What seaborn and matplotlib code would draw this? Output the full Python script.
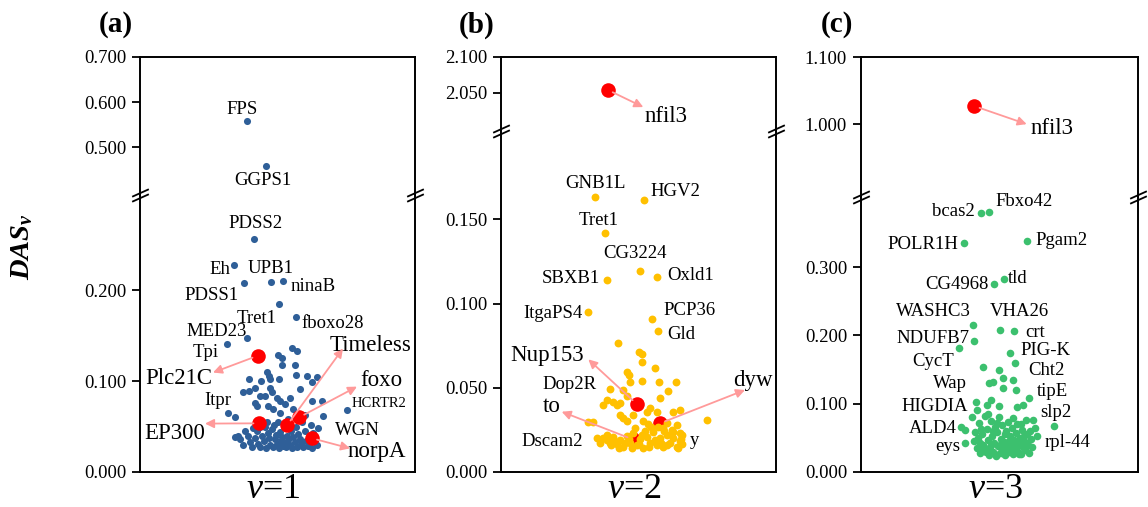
import numpy as np
import pandas as pd
import matplotlib
matplotlib.use("Agg")
import matplotlib.pyplot as plt
import seaborn as sns
from matplotlib.path import Path

sns.set_theme(style="ticks")
plt.rcParams["font.family"] = ["Liberation Serif", "DejaVu Serif"]
plt.rcParams["text.color"] = "black"
plt.rcParams["axes.labelcolor"] = "black"
plt.rcParams["xtick.color"] = "black"
plt.rcParams["ytick.color"] = "black"
plt.rcParams["axes.edgecolor"] = "black"
plt.rcParams["mathtext.fontset"] = "custom"
plt.rcParams["mathtext.rm"] = "Liberation Serif"
plt.rcParams["mathtext.it"] = "Liberation Serif:italic"
plt.rcParams["mathtext.bf"] = "Liberation Serif:bold"
HAS_BFIT = "mathtext.bfit" in plt.rcParams
if HAS_BFIT:
    plt.rcParams["mathtext.bfit"] = "Liberation Serif:italic:bold"

# ---------------------------------------------------------------- data
# panel (a)  v=1
a_x = [107, 126, 114, 94, 104, 131, 143, 139, 156, 107, 87, 88, 95, 207, 183,
       151.7, 156.7, 138.3, 141.7, 141.7, 155, 127.3, 129.3, 109, 121, 130, 166.7, 176.7, 155.7,
       139.3, 115, 160, 172.3, 109, 103.3, 130, 131.7, 120, 125, 136.7, 140, 150, 145, 171.7,
       181.7, 115, 116.7, 128, 133.3, 140, 153.3, 178.3, 173.3, 98.3, 95,
       100, 103, 108, 110, 112, 115, 117, 118, 120, 122, 124, 125, 126, 128, 129, 130, 132, 133,
       134, 135, 136, 137, 138, 139, 140, 141, 142, 143, 144, 145, 146, 147, 148, 150, 151, 152,
       153, 155, 156, 157, 158, 160, 161, 162, 163, 165, 166, 168, 170, 171, 172, 175, 177, 120,
       113, 105, 127, 148, 158, 165]
a_y = [0.558, 0.458, 0.2566, 0.228, 0.2076, 0.2095, 0.2106, 0.185, 0.1705, 0.148, 0.141,
       0.0654, 0.061, 0.0684, 0.0617,
       0.136, 0.133, 0.129, 0.126, 0.118, 0.118, 0.110, 0.106, 0.102, 0.100, 0.102, 0.106, 0.105,
       0.107, 0.102, 0.093, 0.091, 0.099, 0.089, 0.088, 0.093, 0.088, 0.084, 0.084, 0.081, 0.078,
       0.082, 0.075, 0.078, 0.078, 0.076, 0.073, 0.073, 0.069, 0.065, 0.069, 0.048, 0.043,
       0.040, 0.038,
       0.036, 0.030, 0.040, 0.033, 0.027, 0.037, 0.045, 0.031, 0.028, 0.040, 0.034, 0.049, 0.026,
       0.043, 0.037, 0.030, 0.047, 0.027, 0.052, 0.036, 0.041, 0.031, 0.055, 0.026, 0.044, 0.034,
       0.038, 0.029, 0.049, 0.032, 0.027, 0.040, 0.035, 0.030, 0.045, 0.026, 0.038, 0.033, 0.050,
       0.028, 0.042, 0.036, 0.031, 0.055, 0.027, 0.045, 0.034, 0.029, 0.040, 0.052, 0.026, 0.035,
       0.030, 0.050, 0.048, 0.045, 0.055, 0.058, 0.060, 0.063]
a_red_names = ["Plc21C", "EP300", "Timeless", "foxo", "norpA"]
a_red_x = [117.7, 119, 147.3, 159.3, 171.7]
a_red_y = [0.128, 0.0536, 0.0518, 0.0603, 0.0372]
a_arrow_x = [73, 65, 203, 217, 210]
a_arrow_y = [0.1095, 0.0533, 0.136, 0.094, 0.026]
a_red_lx = [72, 65, 190, 220, 208]
a_red_ly = [0.103, 0.0426, 0.139, 0.101, 0.0224]
a_red_ha = ["right", "right", "left", "left", "left"]
a_lab = ["FPS", "GGPS1", "PDSS2", "Eh", "UPB1", "PDSS1", "ninaB", "Tret1", "fboxo28",
         "MED23", "Tpi", "Itpr", "HCRTR2", "WGN"]
a_lab_x = [102, 123.3, 116, 80.3, 130.8, 71.7, 172.8, 116.7, 192.5, 76.7, 65.7, 77.5, 211.7, 195]
a_lab_y = [0.5845, 0.4263, 0.2734, 0.2235, 0.2246, 0.194, 0.2043, 0.1694, 0.163, 0.155,
           0.1315, 0.079, 0.0757, 0.046]
a_lab_ha = ["center"] * 12 + ["left", "left"]
a_lab_fs = [13.5] * 12 + [10.5, 13.5]

# panel (b)  v=2
b_x = [94, 143, 104.3, 139, 156.3, 106.3, 87.3, 151.3, 156.7,
       117.3, 138.3, 140.7, 141.3, 154, 125.7, 128.3, 129, 140.7, 158, 174.7, 109, 122.3, 167.3,
       159, 126, 105.7, 112.3, 102.3, 115.7, 119, 149, 145.7, 155.7, 172.3, 179, 205.7, 87.3,
       92.3, 119, 122.3, 125.7, 132.3, 142.3, 147.3, 165.7, 175.7, 162.3, 172, 179, 181,
       95.7, 102.3, 105.7, 109, 112.3, 115.7, 119, 122.3, 125.7, 129, 132.3, 135.7, 139, 142.3,
       145.7, 149, 152.3, 155.7, 159, 162.3, 165.7, 169, 172.3, 175.7, 179, 180.5, 99, 106, 113,
       118, 128, 134, 138, 144, 148, 154, 160, 166, 171, 177, 180, 110, 124, 131, 141, 150, 157,
       163]
b_y = [0.1631, 0.1615, 0.1417, 0.1196, 0.1156, 0.114, 0.0948, 0.0909, 0.0839,
       0.0764, 0.0715, 0.0700, 0.0655, 0.0615, 0.0596, 0.0576, 0.0536, 0.0542, 0.0536, 0.0536,
       0.0491, 0.0487, 0.0483, 0.0438, 0.0450, 0.0428, 0.0418, 0.0398, 0.0398, 0.0408, 0.0378,
       0.0358, 0.0358, 0.0358, 0.0368, 0.0311, 0.0299, 0.0299, 0.0339, 0.0319, 0.0305, 0.0339,
       0.0305, 0.0285, 0.0289, 0.0279, 0.0259, 0.0240, 0.0230, 0.0222,
       0.0200, 0.0200, 0.0190, 0.0175, 0.0210, 0.0165, 0.0190, 0.0150, 0.0215, 0.0170, 0.0230,
       0.0160, 0.0195, 0.0145, 0.0210, 0.0175, 0.0235, 0.0160, 0.0200, 0.0150, 0.0220, 0.0175,
       0.0200, 0.0150, 0.0185, 0.0165, 0.0175, 0.0220, 0.0185, 0.0145, 0.0195, 0.0260, 0.0165,
       0.0245, 0.0150, 0.0190, 0.0175, 0.0160, 0.0250, 0.0140, 0.0195, 0.0160, 0.0175, 0.0145,
       0.0220, 0.0265, 0.0270, 0.0245]
b_red_names = ["nfil3", "Nup153", "to", "dyw"]
b_red_x = [106.7, 135.7, 131.7, 159]
b_red_y = [2.0538, 0.0404, 0.0194, 0.0289]
b_arrow_x = [142.3, 87.3, 60.7, 244]
b_arrow_y = [2.0296, 0.0669, 0.0358, 0.0487]
b_red_lx = [144, 83, 50.7, 232]
b_red_ly = [2.0164, 0.0689, 0.0388, 0.0546]
b_red_ha = ["left", "right", "center", "left"]
b_lab = ["GNB1L", "HGV2", "Tret1", "CG3224", "Oxld1", "SBXB1", "ItgaPS4", "PCP36", "Gld",
         "Dop2R", "Dscam2", "y"]
b_lab_x = [94, 149, 97.8, 133.5, 166.3, 99, 81.7, 162.3, 166.3, 68.7, 82.3, 194]
b_lab_y = [0.1714, 0.1665, 0.1496, 0.130, 0.1164, 0.1148, 0.0942, 0.0962, 0.0818, 0.0517,
           0.018, 0.019]
b_lab_ha = ["center", "left", "center", "center", "left", "right", "right", "left", "left",
            "center", "right", "center"]

# panel (c)  v=3
c_x = [119.7, 127.7, 103.3, 165.7, 133, 143, 111.7, 139, 153.3, 113, 98, 149, 168, 193,
       122.3, 138.3, 154, 128.3, 131.7, 141.7, 151.7, 141.7, 155, 115, 126.3, 138.3, 129.7,
       155.7, 162.3, 115.7, 110.7, 165, 172.3, 99.7, 104, 174, 175.7, 104,
       113, 116, 118, 119, 121, 122, 124, 125, 126, 127, 128, 129, 130, 131, 132, 133, 134, 135,
       136, 137, 138, 139, 140, 141, 142, 143, 144, 145, 146, 147, 148, 149, 150, 151, 152, 153,
       154, 155, 156, 157, 158, 159, 160, 161, 162, 163, 164, 166, 167, 168, 170, 171, 117, 120,
       123, 127, 132, 136, 139, 144, 148, 152, 156, 160, 165, 169, 114, 119, 130, 141, 150, 158,
       163]
c_y = [0.3787, 0.3812, 0.3348, 0.3382, 0.2753, 0.2826, 0.2148, 0.2079, 0.2064, 0.1923, 0.1811,
       0.1738, 0.1079, 0.0678,
       0.154, 0.149, 0.159, 0.131, 0.132, 0.137, 0.135, 0.123, 0.120, 0.102, 0.098, 0.096, 0.105,
       0.095, 0.098, 0.091, 0.081, 0.076, 0.076, 0.066, 0.062, 0.064, 0.052, 0.042,
       0.045, 0.035, 0.072, 0.028, 0.055, 0.040, 0.082, 0.030, 0.063, 0.047, 0.025, 0.036, 0.075,
       0.052, 0.030, 0.043, 0.066, 0.024, 0.058, 0.038, 0.080, 0.028, 0.049, 0.069, 0.033, 0.044,
       0.025, 0.060, 0.037, 0.073, 0.029, 0.052, 0.041, 0.064, 0.026, 0.047, 0.034, 0.057, 0.070,
       0.030, 0.042, 0.050, 0.027, 0.062, 0.037, 0.045, 0.032, 0.055, 0.040, 0.028, 0.048, 0.036,
       0.050, 0.063, 0.033, 0.085, 0.060, 0.072, 0.040, 0.055, 0.045, 0.079, 0.038, 0.070, 0.042,
       0.060, 0.059, 0.042, 0.040, 0.028, 0.033, 0.026, 0.053]
c_red_names = ["nfil3"]
c_red_x = [113.3]
c_red_y = [1.0269]
c_arrow_x = [165.7]
c_arrow_y = [1.0]
c_red_lx = [169.7]
c_red_ly = [0.9936]
c_red_ha = ["left"]
c_lab = ["bcas2", "Fbxo42", "POLR1H", "Pgam2", "CG4968", "tld", "WASHC3", "VHA26", "crt",
         "NDUFB7", "PIG-K", "CycT", "Cht2", "Wap", "tipE", "HIGDIA", "slp2", "ALD4", "rpl-44",
         "eys"]
c_lab_x = [114, 134, 97, 174, 127.3, 147.3, 72.3, 158.2, 164, 108.3, 159, 72.3, 167.3, 89,
           175.7, 107.3, 179, 95.7, 184, 99]
c_lab_y = [0.381, 0.3958, 0.3324, 0.3382, 0.2738, 0.2836, 0.2347, 0.2347, 0.204, 0.1957,
           0.1786, 0.1615, 0.1484, 0.1299, 0.1176, 0.0966, 0.0868, 0.064, 0.0429, 0.037]
c_lab_ha = ["right", "left", "right", "left", "right", "left", "center", "center", "left",
            "right", "left", "center", "left", "center", "left", "right", "left", "right",
            "left", "right"]

# ---------------------------------------------------------------- layout
W, H = 1148, 507
fig = plt.figure(figsize=(W / 100, H / 100), dpi=100)

panels = [
    dict(tag="(a)", v="1", left=140, width=275, brk=195, top=57, bottom=472,
         xlim=(0, 275), up=(0.395, 0.70), low=(0, 0.305),
         up_ticks=[0.5, 0.6, 0.7], low_ticks=[0.0, 0.1, 0.2],
         x=a_x, y=a_y, color="#2f5f98", s=26,
         rx=a_red_x, ry=a_red_y, ax_=a_arrow_x, ay_=a_arrow_y, rl=a_red_names,
         rlx=a_red_lx, rly=a_red_ly, rha=a_red_ha, red_on_top=True,
         lab=a_lab, lx=a_lab_x, ly=a_lab_y, lha=a_lab_ha, lfs=a_lab_fs),
    dict(tag="(b)", v="2", left=501, width=275, brk=131, top=57, bottom=472,
         xlim=(0, 275), up=(1.996, 2.10), low=(0, 0.2025),
         up_ticks=[2.05, 2.10], low_ticks=[0.0, 0.05, 0.10, 0.15],
         x=b_x, y=b_y, color="#ffc000", s=32,
         rx=b_red_x, ry=b_red_y, ax_=b_arrow_x, ay_=b_arrow_y, rl=b_red_names,
         rlx=b_red_lx, rly=b_red_ly, rha=b_red_ha, red_on_top=False,
         lab=b_lab, lx=b_lab_x, ly=b_lab_y, lha=b_lab_ha, lfs=[13.5] * len(b_lab)),
    dict(tag="(c)", v="3", left=861, width=277, brk=197, top=57, bottom=472,
         xlim=(0, 277), up=(0.8915, 1.10), low=(0, 0.4026),
         up_ticks=[1.0, 1.1], low_ticks=[0.0, 0.1, 0.2, 0.3],
         x=c_x, y=c_y, color="#3cc06e", s=30,
         rx=c_red_x, ry=c_red_y, ax_=c_arrow_x, ay_=c_arrow_y, rl=c_red_names,
         rlx=c_red_lx, rly=c_red_ly, rha=c_red_ha, red_on_top=True,
         lab=c_lab, lx=c_lab_x, ly=c_lab_y, lha=c_lab_ha, lfs=[13.5] * len(c_lab)),
]

brk_path = Path([(-1, -0.75), (1, 0.15), (-1, -0.15), (1, 0.75)],
                [Path.MOVETO, Path.LINETO, Path.MOVETO, Path.LINETO])
RED = "#ff0000"
ARROW = "#ff9a9a"

for p in panels:
    l = p["left"] / W
    w = p["width"] / W
    ax_up = fig.add_axes([l, (H - p["brk"]) / H, w, (p["brk"] - p["top"]) / H])
    ax_lo = fig.add_axes([l, (H - p["bottom"]) / H, w, (p["bottom"] - p["brk"]) / H])
    df = pd.DataFrame({"x": p["x"], "y": p["y"]})
    dr = pd.DataFrame({"x": p["rx"], "y": p["ry"]})
    for ax, lim, ticks in ((ax_up, p["up"], p["up_ticks"]), (ax_lo, p["low"], p["low_ticks"])):
        zr = 3 if p["red_on_top"] else 1
        sns.scatterplot(data=df, x="x", y="y", ax=ax, color=p["color"], s=p["s"],
                        linewidth=0, zorder=2, legend=False)
        sns.scatterplot(data=dr, x="x", y="y", ax=ax, color=RED, s=110,
                        linewidth=0, zorder=zr, legend=False)
        ax.set_xlim(*p["xlim"])
        ax.set_ylim(*lim)
        ax.set_yticks(ticks)
        ax.set_yticklabels([f"{t:.3f}" for t in ticks])
        ax.set_xticks([])
        ax.set_xlabel("")
        ax.set_ylabel("")
        ax.tick_params(axis="y", direction="out", length=6, width=1.3, labelsize=13.5,
                       pad=4, colors="black", left=True, right=False)
        for sp in ax.spines.values():
            sp.set_linewidth(1.4)
            sp.set_color("black")
        ax.set_facecolor("white")
    ax_up.spines["bottom"].set_visible(False)
    ax_lo.spines["top"].set_visible(False)
    ax_lo.plot([0, 1], [1, 1], transform=ax_lo.transAxes, marker=brk_path, markersize=12,
               linestyle="none", color="black", mec="black", mfc="none", mew=1.3,
               clip_on=False, zorder=10)

    # arrows and big labels
    for name, x0, y0, x1, y1, tx, ty, ha in zip(p["rl"], p["rx"], p["ry"], p["ax_"], p["ay_"],
                                               p["rlx"], p["rly"], p["rha"]):
        ax = ax_up if y0 > p["low"][1] else ax_lo
        ax.annotate("", xy=(x1, y1), xytext=(x0, y0),
                    arrowprops=dict(arrowstyle="-|>", color=ARROW, lw=1.3,
                                    mutation_scale=13, shrinkA=4, shrinkB=0),
                    zorder=4)
        ax.text(tx, ty, name, ha=ha, va="center", fontsize=16.5, color="black", zorder=6,
                clip_on=False)
    for name, tx, ty, ha, fs in zip(p["lab"], p["lx"], p["ly"], p["lha"], p["lfs"]):
        ax = ax_up if ty > p["low"][1] else ax_lo
        ax.text(tx, ty, name, ha=ha, va="center", fontsize=fs, color="black", zorder=6,
                clip_on=False)

    fig.text((p["left"] - 24) / W, 1 - 25 / H, p["tag"], fontsize=21, fontweight="bold",
             ha="center", va="center", color="black")
    fig.text((p["left"] + p["width"] / 2 - 4) / W, 1 - 489 / H, r"$v$=" + p["v"], fontsize=26,
             ha="center", va="center", color="black")

if HAS_BFIT:
    ylab = r"$\mathbfit{DAS}_{\mathbfit{v}}$"
else:
    ylab = r"$\mathbf{DAS}_{v}$"
fig.text(22 / W, 1 - 247 / H, ylab, rotation=90, fontsize=20.5, ha="center", va="center",
         color="black")

fig.savefig("out.png", dpi=100, facecolor="white")
